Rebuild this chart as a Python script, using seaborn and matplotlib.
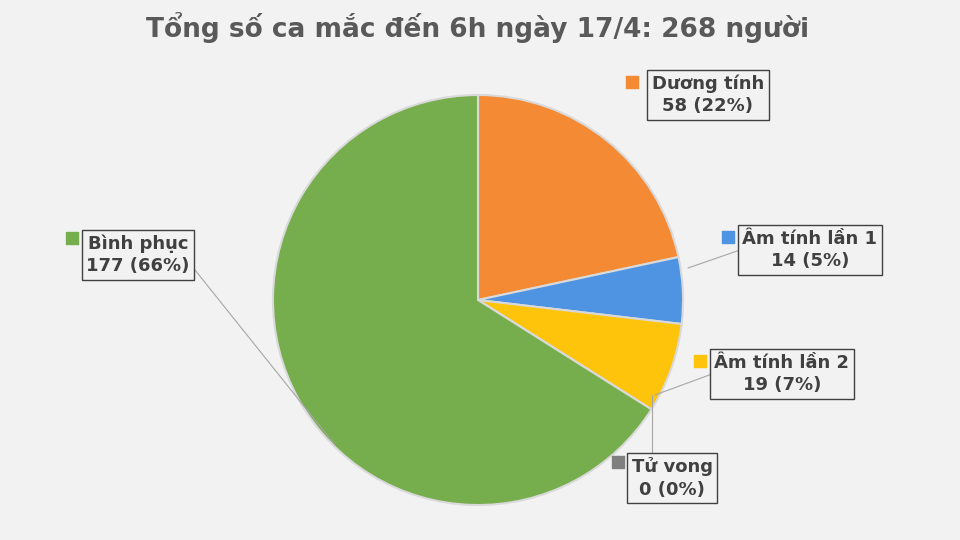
import matplotlib
matplotlib.use("Agg")
import matplotlib.pyplot as plt
import seaborn as sns

sns.set_theme(style="white")
plt.rcParams["font.family"] = ["DejaVu Sans"]

TITLE = "Tổng số ca mắc đến 6h ngày 17/4: 268 người"
categories = ["Dương tính", "Âm tính lần 1", "Âm tính lần 2", "Tử vong", "Bình phục"]
values = [58, 14, 19, 0, 177]
percents = ["22%", "5%", "7%", "0%", "66%"]
colors = ["#f58a35", "#4f94e3", "#fec40c", "#7f7f7f", "#76ad4d"]

fig = plt.figure(figsize=(9.6, 5.4), dpi=100)
fig.patch.set_facecolor("#f2f2f2")
ax = fig.add_axes([0, 0, 1, 1])

ax.pie(values, colors=colors, startangle=90, counterclock=False,
       center=(478, 240), radius=205, explode=[0.04, 0.04, 0.04, 0.0, 0.01],
       wedgeprops=dict(edgecolor="#d9d9d9", linewidth=1.5))
ax.set_xlim(0, 960)
ax.set_ylim(0, 540)
ax.set_aspect("equal")
ax.axis("off")

ax.text(478, 512, TITLE, ha="center", va="center", fontsize=19,
        fontweight="bold", color="#595959")

# label boxes: (text x, text y, marker x, marker y, line from, line to)
layout = [
    (708, 445, 632, 458, None, None),
    (810, 290, 728, 303, (740, 290), (688, 272)),
    (782, 166, 700, 179, (712, 166), (655, 145)),
    (672, 62, 618, 78, (652, 86), (652, 145)),
    (138, 285, 72, 302, (195, 270), (335, 95)),
]
for cat, v, p, c, (tx, ty, mx, my, l0, l1) in zip(categories, values, percents, colors, layout):
    if l0 is not None:
        ax.plot([l0[0], l1[0]], [l0[1], l1[1]], color="#a6a6a6", lw=0.8)
    ax.text(tx, ty, f"{cat}\n{v} ({p})", ha="center", va="center", fontsize=13,
            fontweight="bold", color="#404040", linespacing=1.3,
            bbox=dict(boxstyle="square,pad=0.25", fc="#f2f2f2", ec="#404040", lw=1))
    ax.scatter([mx], [my], marker="s", s=70, color=c, zorder=5)

fig.savefig("out.png", dpi=100, facecolor=fig.get_facecolor())
